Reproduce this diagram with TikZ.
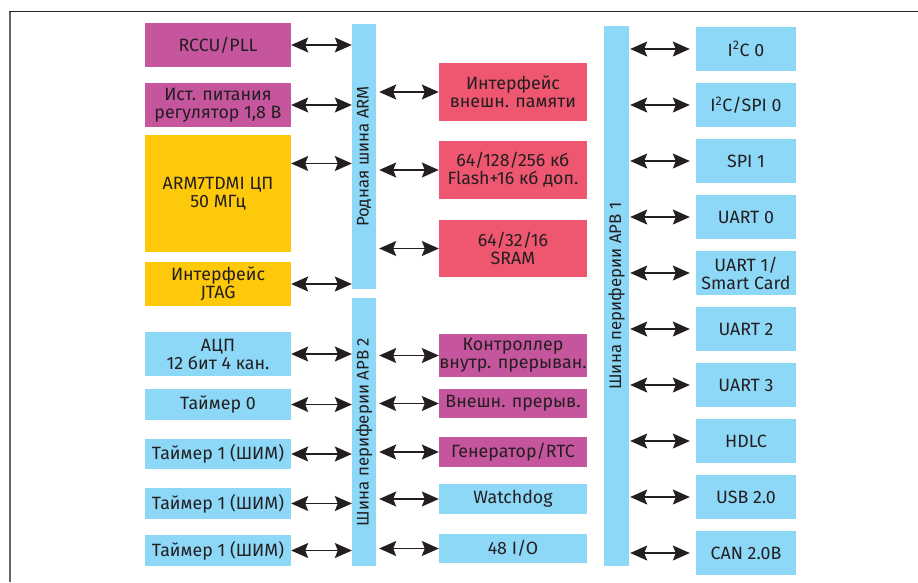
\documentclass[tikz,border=0pt]{standalone}
\usepackage{fontspec}
\setmainfont{Fira Sans}
\usetikzlibrary{arrows.meta}
\definecolor{stmagenta}{HTML}{C5559D}
\definecolor{styellow}{HTML}{FEC90A}
\definecolor{stred}{HTML}{EF5771}
\definecolor{stblue}{HTML}{8DD7F7}
\definecolor{txtdark}{HTML}{231F20}

\begin{document}
\begin{tikzpicture}[x=1pt, y=-1pt,
  box/.style={minimum height=44pt, align=center, inner sep=0pt,
              text=txtdark, font=\fontsize{17.8}{18}\selectfont},
  bus/.style={fill=stblue, minimum width=24pt, inner sep=0pt},
  buslbl/.style={rotate=90, text=txtdark, font=\fontsize{16.8}{18}\selectfont},
  arr/.style={{Stealth[length=17pt, width=15pt, inset=3pt]}-{Stealth[length=17pt, width=15pt, inset=3pt]},
              line width=1.2pt, draw=txtdark},
]
\useasboundingbox (0,0) rectangle (918,582);

% ---- Frame ----
\draw[line width=1.4pt, black!85] (9,11.5) -- (918,11.5);
\draw[line width=1.6pt, black!60] (10,11.5) -- (10,582);

% ---- Buses ----
\node[bus, minimum height=265pt] (armbus) at (364,156.5) {};
\node[bus, minimum height=268pt] (apb2) at (364,432) {};
\node[bus, minimum width=25pt, minimum height=540pt] (apb1) at (616.5,296) {};
\node[buslbl] at (armbus) {Родная шина ARM};
\node[buslbl] at (apb2) {Шина периферии APB 2};
\node[buslbl] at (apb1) {Шина периферии APB 1};

% ---- Left column ----
\node[box, fill=stmagenta, minimum width=146pt] (rccu) at (218,45) {RCCU/PLL};
\node[box, fill=stmagenta, minimum width=146pt] (pwr) at (218,105) {Ист. питания\\регулятор 1,8 В};
\node[box, fill=styellow, minimum width=146pt, minimum height=117pt] (cpu) at (218,193.5) {ARM7TDMI ЦП\\50 МГц};
\node[box, fill=styellow, minimum width=146pt] (jtag) at (218,284) {Интерфейс\\JTAG};
\node[box, fill=stblue, minimum width=146pt] (adc) at (218,354) {АЦП\\12 бит 4 кан.};
\node[box, fill=stblue, minimum width=146pt, minimum height=31pt] (tim0) at (218,404.5) {Таймер 0};
\node[box, fill=stblue, minimum width=146pt, minimum height=30pt] (tima) at (218,454) {Таймер 1 (ШИМ)};
\node[box, fill=stblue, minimum width=146pt, minimum height=31pt] (timb) at (218,503.5) {Таймер 1 (ШИМ)};
\node[box, fill=stblue, minimum width=146pt, minimum height=31pt] (timc) at (218,550.5) {Таймер 1 (ШИМ)};

\draw[arr] (rccu.east) -- (rccu.east -| armbus.west);
\draw[arr] (pwr.east) -- (pwr.east -| armbus.west);
\draw[arr] ([yshift=30pt]cpu.east) -- ([yshift=30pt]cpu.east -| armbus.west);
\draw[arr] (jtag.east) -- (jtag.east -| armbus.west);
\foreach \n in {adc, tim0, tima, timb, timc}
  \draw[arr] (\n.east) -- (\n.east -| apb2.west);

% ---- Middle column ----
\node[box, fill=stred, minimum width=148pt, minimum height=58pt] (extmem) at (513,92) {Интерфейс\\внешн. памяти};
\node[box, fill=stred, minimum width=148pt, minimum height=58pt] (flash) at (513,170) {64/128/256 кб\\Flash+16 кб доп.};
\node[box, fill=stred, minimum width=148pt, minimum height=57pt] (sram) at (513,248.5) {64/32/16\\SRAM};
\node[box, fill=stmagenta, minimum width=148pt, minimum height=43pt] (intc) at (513,355.5) {Контроллер\\внутр. прерыван.};
\node[box, fill=stmagenta, minimum width=148pt, minimum height=29pt] (extint) at (513,403.5) {Внешн. прерыв.};
\node[box, fill=stmagenta, minimum width=148pt, minimum height=30pt] (rtc) at (513,452) {Генератор/RTC};
\node[box, fill=stblue, minimum width=148pt, minimum height=30pt] (wdg) at (513,499) {Watchdog};
\node[box, fill=stblue, minimum width=148pt, minimum height=29pt] (gpio) at (513,548.5) {48 I/O};

\foreach \n in {extmem, flash, sram}
  \draw[arr, shorten <=3pt] (armbus.east |- \n.west) -- (\n.west);
\foreach \n in {intc, extint, rtc, wdg, gpio}
  \draw[arr, shorten <=3pt] (apb2.east |- \n.west) -- (\n.west);

% ---- Right column ----
\foreach \n/\t [count=\i from 0] in {i2c/{I\textsuperscript{2}C 0}, i2cspi/{I\textsuperscript{2}C/SPI 0},
    spi/{SPI 1}, uarta/{UART 0}, uartb/{UART 1/\\Smart Card}, uartc/{UART 2},
    uartd/{UART 3}, hdlc/{HDLC}, usb/{USB 2.0}, can/{CAN 2.0B}} {
  \node[box, fill=stblue, minimum width=100pt] (\n) at (746,49+56*\i) {\t};
  \draw[arr, shorten <=1pt, shorten >=6pt] (apb1.east |- \n.west) -- (\n.west);
}

\end{tikzpicture}
\end{document}
